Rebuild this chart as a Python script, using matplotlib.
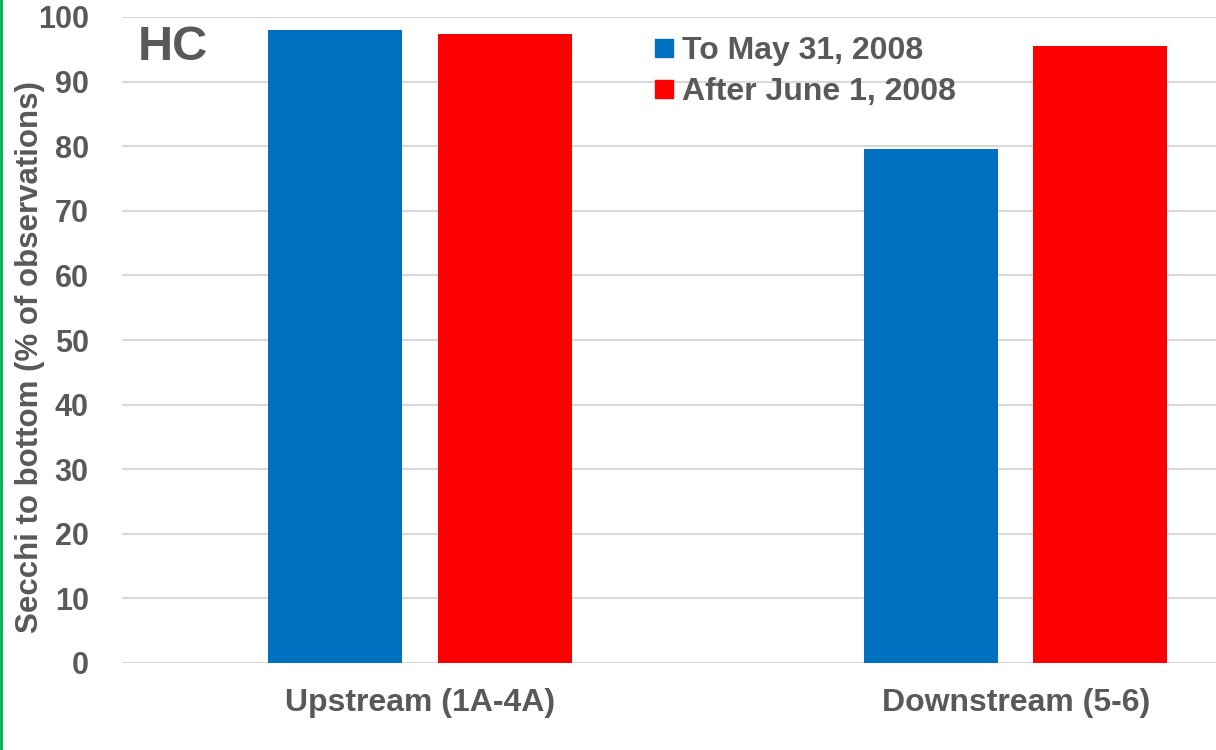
import matplotlib.pyplot as plt
import numpy as np
from matplotlib.lines import Line2D

# data
categories = ["Upstream (1A-4A)", "Downstream (5-6)"]
series_names = ["To May 31, 2008", "After June 1, 2008"]
to_may = [98.0, 79.6]
after_june = [97.4, 95.5]
yticks = [0, 10, 20, 30, 40, 50, 60, 70, 80, 90, 100]

blue = "#0070c0"
red = "#ff0000"
grey = "#595959"

plt.rcParams["font.family"] = ["Liberation Sans", "DejaVu Sans"]
plt.rcParams["font.weight"] = "bold"

W, H = 1216, 750
fig = plt.figure(figsize=(W / 100, H / 100), dpi=100)
ax = fig.add_axes([122 / W, 1 - 663 / H, (W - 122) / W, (663 - 17) / H])

x = np.arange(len(categories))
w = 0.225
off = 0.142
ax.bar(x - off, to_may, w, color=blue, zorder=3)
ax.bar(x + off, after_june, w, color=red, zorder=3)

ax.set_xlim(-0.5, 1.336)
ax.set_ylim(0, 100)
ax.set_yticks(yticks)
ax.set_xticks(x)
ax.set_xticklabels(categories, fontsize=23, color=grey, fontweight="bold")
ax.tick_params(axis="y", labelsize=22, labelcolor=grey, length=0, pad=24)
ax.tick_params(axis="x", length=0, pad=18)
for t in ax.get_yticklabels():
    t.set_fontweight("bold")
ax.yaxis.grid(True, color="#d9d9d9", linewidth=1.5, zorder=0)
for s in ax.spines.values():
    s.set_visible(False)

fig.text(30 / W, 1 - 357 / H, "Secchi to bottom (% of observations)",
         rotation=90, ha="center", va="center", fontsize=22.5,
         color=grey, fontweight="bold")

fig.text(138 / W, 1 - 47 / H, "HC", fontsize=35,
         color=grey, fontweight="bold", va="center", ha="left")

handles = [Line2D([], [], marker="s", linestyle="", markersize=13, color=c)
           for c in (blue, red)]
leg = fig.legend(handles, series_names, loc="upper left",
                 bbox_to_anchor=(652 / W, 1 - 36 / H), frameon=False, fontsize=23,
                 handlelength=0.75, handletextpad=0.2, labelspacing=0.35,
                 borderaxespad=0, borderpad=0)
for t in leg.get_texts():
    t.set_color(grey)
    t.set_fontweight("bold")

# green left border
fig.add_artist(Line2D([0.001, 0.001], [0, 1], color="#00b050", linewidth=2,
                      transform=fig.transFigure))

fig.savefig("out.png", dpi=100)
